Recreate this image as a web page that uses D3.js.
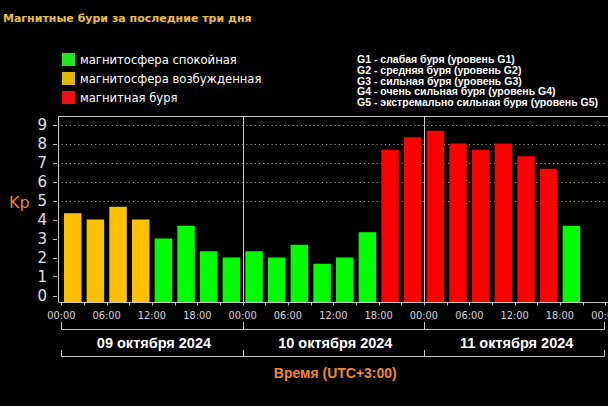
<!DOCTYPE html>
<html>
<head>
<meta charset="utf-8">
<script src="https://cdn.jsdelivr.net/npm/d3@7"></script>
<style>
  html, body { margin: 0; padding: 0; background: #000; }
  svg { display: block; }
</style>
</head>
<body>
<svg id="svg" width="608" height="406"></svg>
<script>
// Kp index, 3-hour intervals starting 09.10.2024 00:00
var kpValues = [4.33, 4.0, 4.67, 4.0, 3.0, 3.67, 2.33, 2.0,
                2.33, 2.0, 2.67, 1.67, 2.0, 3.33, 7.67, 8.33,
                8.67, 8.0, 7.67, 8.0, 7.33, 6.67, 3.67];
var dayLabels = ["09 октября 2024", "10 октября 2024", "11 октября 2024"];
var hourLabels = ["00:00", "06:00", "12:00", "18:00"];
var yTicks = [0, 1, 2, 3, 4, 5, 6, 7, 8, 9];
var gridLevels = [5, 6, 7, 8, 9];
var legendItems = ["магнитосфера спокойная", "магнитосфера возбужденная", "магнитная буря"];
var stormLevels = [
    "G1 - слабая буря (уровень G1)",
    "G2 - средняя буря (уровень G2)",
    "G3 - сильная буря (уровень G3)",
    "G4 - очень сильная буря (уровень G4)",
    "G5 - экстремально сильная буря (уровень G5)"
];

var barColors = { quiet: "#00ff00", active: "#ffc000", storm: "#ff0000" };
var legendColors = ["#1ee81e", "#e0b800", "#ee1111"];
var font = "'DejaVu Sans', Verdana, sans-serif";
var fontNarrow = "'Liberation Sans', Arial, sans-serif";

function kpClass(v)
{
    if (v < 4) return "quiet";
    if (v < 5) return "active";
    return "storm";
}

const svg = d3.select("#svg");
const frameLeft = 58.5, frameTop = 116.5, axisY = 302.5;

const x = d3.scaleLinear().domain([0, 72]).range([61.3, 605.3]);
const y = d3.scaleLinear().domain([0, 9]).range([295.5, 124.5]);

// title
svg.append("text")
    .attr("x", 3).attr("y", 22)
    .attr("fill", "#e8c040").attr("font-family", font).attr("font-weight", "bold")
    .attr("font-size", 11)
    .text("Магнитные бури за последние три дня");

// colour legend
const leg = svg.append("g");
legendItems.forEach(function(t, i) {
    leg.append("rect")
        .attr("x", 62).attr("y", 53 + i * 19)
        .attr("width", 13).attr("height", 13)
        .attr("fill", legendColors[i]);
    leg.append("text")
        .attr("x", 80).attr("y", 64 + i * 19)
        .attr("fill", "#fff").attr("font-family", font).attr("font-size", 11.6)
        .text(t);
});

// storm level legend
stormLevels.forEach(function(t, i) {
    svg.append("text")
        .attr("x", 357).attr("y", 63 + i * 10.8)
        .attr("fill", "#fff").attr("font-family", fontNarrow).attr("font-weight", "bold")
        .attr("font-size", 10.5)
        .text(t);
});

// dotted grid
svg.append("g").selectAll("line")
    .data(gridLevels)
    .join("line")
        .attr("x1", frameLeft + 3).attr("x2", 606)
        .attr("y1", d => Math.round(y(d)) + 0.5).attr("y2", d => Math.round(y(d)) + 0.5)
        .attr("stroke", "#999").attr("stroke-dasharray", "1.2,3");

// bars
svg.append("g").selectAll("rect")
    .data(kpValues)
    .join("rect")
        .attr("x", (d, i) => x(i * 3) + 2.7)
        .attr("width", x(3) - x(0) - 5.2)
        .attr("y", d => y(d))
        .attr("height", d => axisY - y(d))
        .attr("fill", d => barColors[kpClass(d)]);

// frame and day separators
const frameColor = "#c8c8c8";
svg.append("line").attr("x1", frameLeft).attr("x2", 608).attr("y1", frameTop).attr("y2", frameTop)
    .attr("stroke", frameColor);
svg.append("line").attr("x1", frameLeft).attr("x2", frameLeft).attr("y1", frameTop).attr("y2", axisY)
    .attr("stroke", frameColor);
svg.append("g").selectAll("line")
    .data([24, 48])
    .join("line")
        .attr("x1", d => Math.round(x(d)) + 0.5).attr("x2", d => Math.round(x(d)) + 0.5)
        .attr("y1", frameTop).attr("y2", axisY)
        .attr("stroke", frameColor);

// x axis line and ticks
svg.append("line").attr("x1", frameLeft).attr("x2", 608).attr("y1", axisY).attr("y2", axisY)
    .attr("stroke", frameColor);
svg.append("g").selectAll("line")
    .data(d3.range(0, 73, 3))
    .join("line")
        .attr("x1", d => Math.round(x(d)) + 0.5).attr("x2", d => Math.round(x(d)) + 0.5)
        .attr("y1", axisY).attr("y2", axisY + 3)
        .attr("stroke", frameColor);

// hour labels (the last one is clipped by the edge, as in the original)
const hourTicks = d3.range(0, 73, 6);
svg.append("g").selectAll("text")
    .data(hourTicks)
    .join("text")
        .attr("x", d => x(d)).attr("y", 319)
        .attr("text-anchor", "middle")
        .attr("fill", "#d8d8d8").attr("font-family", font).attr("font-size", 9.8)
        .text(d => hourLabels[(d / 6) % 4]);

// y axis labels and ticks
svg.append("g").selectAll("text")
    .data(yTicks)
    .join("text")
        .attr("x", 47).attr("y", d => y(d) + 5.5)
        .attr("text-anchor", "end")
        .attr("fill", "#e0e0e0").attr("font-family", font).attr("font-size", 15)
        .text(d => d);
svg.append("g").selectAll("line")
    .data(yTicks)
    .join("line")
        .attr("x1", 53).attr("x2", 57)
        .attr("y1", d => Math.round(y(d)) + 0.5).attr("y2", d => Math.round(y(d)) + 0.5)
        .attr("stroke", "#bbb");

// Kp label
svg.append("text")
    .attr("x", 9).attr("y", 208)
    .attr("fill", "#e8803a").attr("font-family", font).attr("font-size", 16)
    .text("Kp");

// day brackets
function bracket(yLine, yTop)
{
    const g = svg.append("g").attr("stroke", frameColor).attr("fill", "none");
    g.append("line").attr("x1", Math.round(x(0)) + 0.5).attr("x2", Math.round(x(72)) - 0.5)
        .attr("y1", yLine).attr("y2", yLine);
    g.selectAll(".v")
        .data([0, 24, 48, 72])
        .join("line")
            .attr("x1", d => Math.round(x(d)) + (d == 72 ? -0.5 : 0.5))
            .attr("x2", d => Math.round(x(d)) + (d == 72 ? -0.5 : 0.5))
            .attr("y1", yTop).attr("y2", yLine);
}
bracket(329.5, 322);
bracket(356.5, 350);

svg.append("g").selectAll("text")
    .data(dayLabels)
    .join("text")
        .attr("x", (d, i) => x(i * 24 + 12) + 2).attr("y", 348)
        .attr("text-anchor", "middle")
        .attr("fill", "#fff").attr("font-family", fontNarrow).attr("font-weight", "bold")
        .attr("font-size", 14.5)
        .text(d => d);

// axis title
svg.append("text")
    .attr("x", (x(0) + x(72)) / 2 + 2).attr("y", 378)
    .attr("text-anchor", "middle")
    .attr("fill", "#f08a24").attr("font-family", fontNarrow).attr("font-weight", "bold")
    .attr("font-size", 14)
    .text("Время (UTC+3:00)");
</script>
</body>
</html>
